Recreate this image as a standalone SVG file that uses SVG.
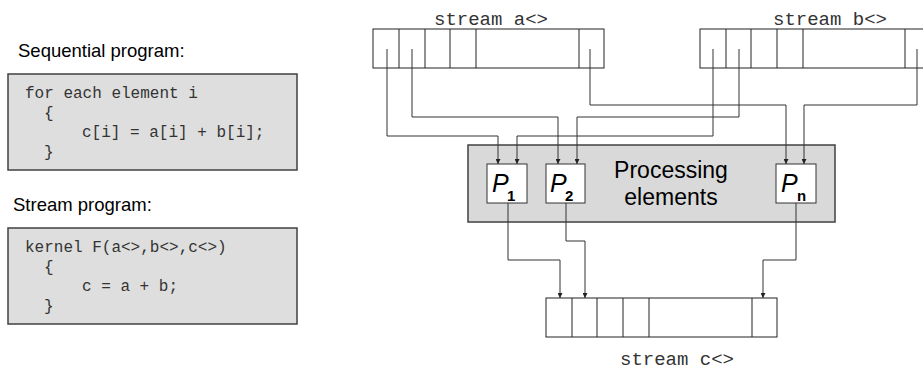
<svg xmlns="http://www.w3.org/2000/svg" width="923" height="371" viewBox="0 0 923 371">
<style>
.lbl{font-family:"Liberation Sans",Arial,sans-serif;fill:#000}
.code{font-family:"Liberation Mono","Courier New",monospace;font-size:16px;fill:#333}
.slbl{font-family:"Liberation Mono","Courier New",monospace;font-size:19px;fill:#333}
.codebox{fill:#dedede;stroke:#404040;stroke-width:1.5}
.cell{fill:#fff;stroke:#222;stroke-width:1}
.div{stroke:#222;stroke-width:1}
.conn{fill:none;stroke:#333;stroke-width:1}
.pe{fill:#fff;stroke:#333;stroke-width:1}
.sub{font-size:15px;font-weight:bold;font-style:normal}
</style>
<defs>
<marker id="arr" viewBox="0 0 6 6" refX="6" refY="3" markerWidth="5" markerHeight="5" orient="auto" markerUnits="userSpaceOnUse">
<path d="M0,0 L6,3 L0,6 z" fill="#222"/>
</marker>
</defs>
<rect width="923" height="371" fill="#fff"/>

<g id="seq-program">
<text class="lbl" x="18" y="57" font-size="18.5">Sequential program:</text>
<rect class="codebox" x="8" y="74" width="289" height="96"/>
<text class="code" x="25" y="98">for each element i</text>
<text class="code" x="44" y="118">{</text>
<text class="code" x="82" y="137">c[i] = a[i] + b[i];</text>
<text class="code" x="44" y="157">}</text>
</g>

<g id="stream-program">
<text class="lbl" x="13" y="211" font-size="18.5">Stream program:</text>
<rect class="codebox" x="8" y="228" width="289" height="96"/>
<text class="code" x="25" y="252">kernel F(a&lt;&gt;,b&lt;&gt;,c&lt;&gt;)</text>
<text class="code" x="44" y="272">{</text>
<text class="code" x="82" y="291">c = a + b;</text>
<text class="code" x="44" y="311">}</text>
</g>

<g id="stream-a">
<text class="slbl" x="491" y="25" text-anchor="middle">stream a&lt;&gt;</text>
<rect class="cell" x="373" y="29" width="231" height="39"/>
<path class="div" d="M399,29V68M425,29V68M450,29V68M476,29V68M579,29V68"/>
</g>

<g id="stream-b">
<text class="slbl" x="830" y="25" text-anchor="middle">stream b&lt;&gt;</text>
<rect class="cell" x="700" y="29" width="231" height="39"/>
<path class="div" d="M726,29V68M751,29V68M777,29V68M803,29V68M905,29V68"/>
</g>

<g id="processing-elements">
<rect x="468" y="145" width="367" height="77" fill="#d9d9d9" stroke="#404040" stroke-width="1.5"/>
<text class="lbl" x="671" y="178" font-size="23" text-anchor="middle">Processing</text>
<text class="lbl" x="671" y="205" font-size="23" text-anchor="middle">elements</text>
</g>

<g id="p1">
<rect class="pe" x="487" y="164" width="40" height="39"/>
<text class="lbl" x="492" y="192" font-size="25" font-style="italic">P<tspan class="sub" x="507" y="201">1</tspan></text>
</g>

<g id="p2">
<rect class="pe" x="546" y="164" width="39" height="39"/>
<text class="lbl" x="550" y="192" font-size="25" font-style="italic">P<tspan class="sub" x="565" y="201">2</tspan></text>
</g>

<g id="pn">
<rect class="pe" x="776" y="164" width="40" height="39"/>
<text class="lbl" x="781" y="192" font-size="25" font-style="italic">P<tspan class="sub" x="797" y="201">n</tspan></text>
</g>

<g id="stream-c">
<rect class="cell" x="546" y="298" width="231" height="39"/>
<path class="div" d="M572,298V337M597,298V337M623,298V337M649,298V337M752,298V337"/>
<text class="slbl" x="677" y="365" text-anchor="middle">stream c&lt;&gt;</text>
</g>

<g id="connectors">
<path class="conn" marker-end="url(#arr)" d="M387,49V136H498V164"/>
<path class="conn" marker-end="url(#arr)" d="M412,49V117H558V164"/>
<path class="conn" marker-end="url(#arr)" d="M590,49V105H786V164"/>
<path class="conn" marker-end="url(#arr)" d="M713,49V136H517V164"/>
<path class="conn" marker-end="url(#arr)" d="M739,49V117H577V164"/>
<path class="conn" marker-end="url(#arr)" d="M917,49V105H804V164"/>
<path class="conn" marker-end="url(#arr)" d="M508,203V260H560V298"/>
<path class="conn" marker-end="url(#arr)" d="M566,203V241H585V298"/>
<path class="conn" marker-end="url(#arr)" d="M796,203V260H763V298"/>
</g>
</svg>
